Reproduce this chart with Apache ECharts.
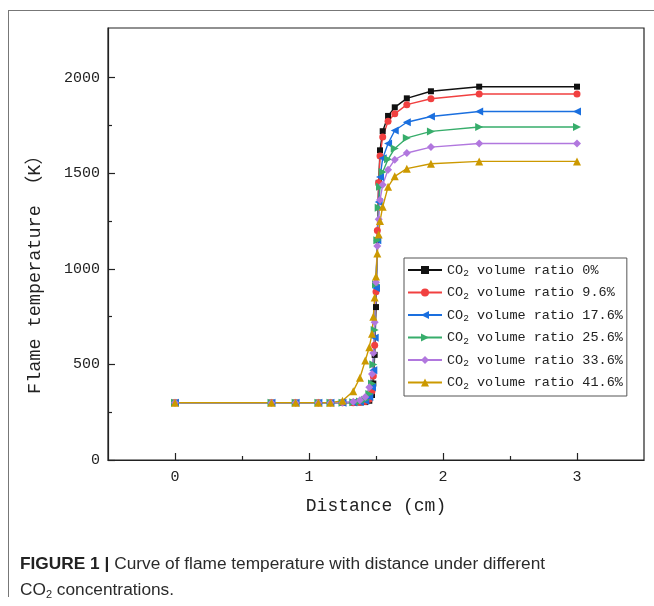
<!DOCTYPE html>
<html>
<head>
<meta charset="utf-8">
<script src="https://cdn.jsdelivr.net/npm/echarts@6/dist/echarts.min.js"></script>
<style>
  html, body { margin: 0; padding: 0; background: #fff; }
  #wrap { position: relative; width: 654px; height: 606px; overflow: hidden; }
  #frame { position: absolute; left: 8px; top: 10px; width: 660px; height: 586px;
    border-top: 1px solid #777; border-left: 1px solid #777; }
  #chart { position: absolute; left: 0; top: 0; width: 654px; height: 606px; }
  #caption { position: absolute; left: 20px; top: 550px; width: 630px;
    font-family: "Liberation Sans", Arial, sans-serif; font-size: 17.3px; line-height: 26px; color: #2b2b2b; }
  #caption b { color: #222; }
  #caption sub { font-size: 11px; vertical-align: -3px; line-height: 0; }
</style>
</head>
<body>
<div id="wrap">
  <div id="frame"></div>
  <div id="chart"></div>
  <div id="caption"><b>FIGURE 1 |</b> Curve of flame temperature with distance under different<br>CO<sub>2</sub> concentrations.</div>
</div>
<script>
// distance grid (cm), shared by all curves
const distance = [0, 0.72, 0.90, 1.07, 1.16, 1.25, 1.33, 1.38, 1.42, 1.45, 1.47, 1.48, 1.49, 1.50, 1.51, 1.52, 1.53, 1.55, 1.59, 1.64, 1.73, 1.91, 2.27, 3.0]

// flame temperature (K) per CO2 ratio
const t0   = [300, 300, 300, 300, 300, 300, 300, 301, 303, 310, 340, 400, 550, 800, 1150, 1450, 1620, 1720, 1800, 1845, 1892, 1929, 1953, 1953]
const t96  = [300, 300, 300, 300, 300, 300, 300, 302, 306, 318, 360, 440, 600, 880, 1200, 1450, 1590, 1690, 1772, 1811, 1859, 1890, 1915, 1915]
const t176 = [300, 300, 300, 300, 300, 300, 301, 304, 310, 330, 380, 470, 640, 900, 1150, 1350, 1480, 1578, 1656, 1724, 1767, 1797, 1823, 1823]
const t256 = [300, 300, 300, 300, 300, 300, 302, 306, 315, 345, 400, 500, 680, 920, 1150, 1320, 1430, 1507, 1573, 1630, 1685, 1719, 1742, 1742]
const t336 = [300, 300, 300, 300, 300, 301, 305, 312, 330, 380, 450, 560, 720, 930, 1120, 1260, 1360, 1440, 1519, 1571, 1606, 1637, 1656, 1656]
const t416 = [300, 300, 300, 300, 300, 310, 360, 430, 520, 590, 660, 750, 850, 960, 1080, 1180, 1250, 1325, 1429, 1484, 1524, 1550, 1562, 1562]

const ratios = ['0%', '9.6%', '17.6%', '25.6%', '33.6%', '41.6%']
const xTicks = [0, 1, 2, 3]
const xMinorTicks = [0.5, 1.5, 2.5]
const yTicks = [0, 500, 1000, 1500, 2000]
const yMinorTicks = [250, 750, 1250, 1750]

const temps = [t0, t96, t176, t256, t336, t416]
const colors = ['#111111', '#f14040', '#1a6fdf', '#37ad6b', '#b177de', '#cc9900']
const symbols = ['rect', 'circle', 'triangle', 'triangle', 'diamond', 'triangle']
const rotates = [0, 0, 90, -90, 0, 0]
const sizes = [6, 7, 8, 8, 8, 8]

const FONT = '"Liberation Mono", "DejaVu Sans Mono", monospace'
const names = ratios.map(r => 'CO2 volume ratio ' + r)

const chart = echarts.init(document.getElementById('chart'))

const tickStyle = { color: '#222', width: 1.2 }
const minorAxis = {
  type: 'value',
  axisLine: { show: false, onZero: false },
  axisLabel: { show: false },
  splitLine: { show: false }
}

chart.setOption({
  animation: false,
  grid: {
    left: 108, top: 28, right: 10, bottom: 146,
    show: true, borderColor: '#222', borderWidth: 1.2
  },
  legend: {
    orient: 'vertical',
    left: 404, top: 258,
    padding: [5, 4, 5, 3],
    borderColor: '#555', borderWidth: 1,
    itemWidth: 34, itemHeight: 10, itemGap: 7,
    data: names,
    formatter: n => '{a|CO}{s|2}{a|' + n.slice(3) + '}',
    textStyle: {
      rich: {
        a: { fontFamily: FONT, fontSize: 13.5, color: '#222', lineHeight: 17 },
        s: { fontFamily: FONT, fontSize: 9.5, color: '#222', lineHeight: 17, verticalAlign: 'bottom' }
      }
    }
  },
  xAxis: [{
    type: 'value', min: -0.5, max: 3.5,
    name: 'Distance (cm)', nameLocation: 'middle', nameGap: 37,
    nameTextStyle: { fontFamily: FONT, fontSize: 18, color: '#222' },
    axisLine: { show: true, onZero: false, lineStyle: tickStyle },
    axisTick: { inside: true, length: 7, customValues: xTicks, lineStyle: tickStyle },
    axisLabel: { customValues: xTicks, margin: 10, fontFamily: FONT, fontSize: 15, color: '#222' },
    splitLine: { show: false }
  }, Object.assign({}, minorAxis, {
    min: -0.5, max: 3.5, position: 'bottom',
    axisTick: { inside: true, length: 4, customValues: xMinorTicks, lineStyle: tickStyle }
  })],
  yAxis: [{
    type: 'value', min: 0, max: 2260,
    name: 'Flame temperature （K）', nameLocation: 'middle', nameGap: 64,
    nameTextStyle: { fontFamily: FONT + ', "Noto Sans CJK SC"', fontSize: 18.5, color: '#222', padding: [0, 52, 0, 0] },
    axisLine: { show: true, onZero: false, lineStyle: tickStyle },
    axisTick: { inside: true, length: 7, customValues: yTicks, lineStyle: tickStyle },
    axisLabel: { customValues: yTicks, margin: 8, fontFamily: FONT, fontSize: 15, color: '#222', formatter: v => String(v) },
    splitLine: { show: false }
  }, Object.assign({}, minorAxis, {
    min: 0, max: 2260, position: 'left',
    axisTick: { inside: true, length: 4, customValues: yMinorTicks, lineStyle: tickStyle }
  })],
  series: temps.map((t, i) => ({
    name: names[i],
    type: 'line',
    xAxisIndex: 0, yAxisIndex: 0,
    data: distance.map((d, j) => [d, t[j]]),
    symbol: symbols[i],
    symbolRotate: rotates[i],
    symbolSize: sizes[i],
    showAllSymbol: true,
    color: colors[i],
    lineStyle: { width: 1.4, color: colors[i] },
    itemStyle: { color: colors[i] }
  }))
})
</script>
</body>
</html>
